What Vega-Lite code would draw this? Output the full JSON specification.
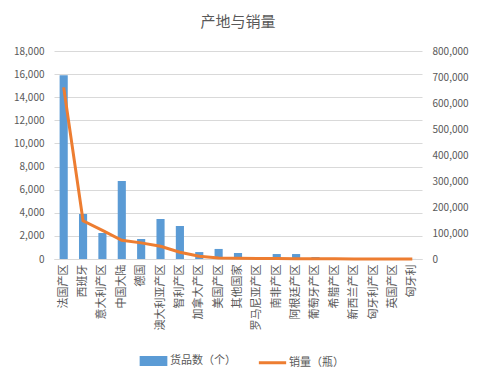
{
  "$schema": "https://vega.github.io/schema/vega-lite/v6.json",
  "width": 368,
  "height": 208,
  "autosize": {"type": "none"},
  "padding": {"left": 54, "top": 51, "right": 59, "bottom": 120},
  "background": "white",
  "title": {"text": "产地与销量", "fontSize": 15, "font": "Noto Sans CJK SC", "fontWeight": "normal", "color": "#595959", "offset": 16},
  "data": {
    "values": [
      {"region": "法国产区", "count": 15900, "sales": 660000},
      {"region": "西班牙", "count": 3900, "sales": 147000},
      {"region": "意大利产区", "count": 2250, "sales": 110000},
      {"region": "中国大陆", "count": 6750, "sales": 72000},
      {"region": "德国", "count": 1730, "sales": 62000},
      {"region": "澳大利亚产区", "count": 3460, "sales": 49000},
      {"region": "智利产区", "count": 2860, "sales": 26000},
      {"region": "加拿大产区", "count": 600, "sales": 11000},
      {"region": "美国产区", "count": 870, "sales": 4000},
      {"region": "其他国家", "count": 520, "sales": 2500},
      {"region": "罗马尼亚产区", "count": 60, "sales": 2000},
      {"region": "南非产区", "count": 430, "sales": 1500},
      {"region": "阿根廷产区", "count": 430, "sales": 1200},
      {"region": "葡萄牙产区", "count": 170, "sales": 1000},
      {"region": "希腊产区", "count": 20, "sales": 500},
      {"region": "新西兰产区", "count": 20, "sales": 400},
      {"region": "匈牙利产区", "count": 10, "sales": 300},
      {"region": "英国产区", "count": 10, "sales": 200},
      {"region": "匈牙利", "count": 5, "sales": 100}
    ]
  },
  "encoding": {
    "x": {
      "field": "region",
      "type": "nominal",
      "sort": null,
      "scale": {"paddingInner": 0.58, "paddingOuter": 0.29},
      "axis": {"title": null, "labelAngle": -90, "domainColor": "#D9D9D9", "ticks": false, "tickSize": 0, "labelFontSize": 11, "labelColor": "#595959", "labelPadding": 5}
    }
  },
  "layer": [
    {
      "mark": {"type": "bar"},
      "encoding": {
        "y": {
          "field": "count",
          "type": "quantitative",
          "scale": {"domain": [0, 18000]},
          "axis": {"title": null, "values": [0, 2000, 4000, 6000, 8000, 10000, 12000, 14000, 16000, 18000], "format": ",.0f", "grid": true, "gridColor": "#D9D9D9", "domain": false, "ticks": false, "tickSize": 0, "labelPadding": 10, "labelFontSize": 10, "labelColor": "#595959"}
        },
        "color": {
          "datum": "货品数（个）",
          "type": "nominal",
          "scale": {"domain": ["货品数（个）", "销量（瓶）"], "range": ["#5B9BD5", "#ED7D31"]},
          "legend": {
            "orient": "none",
            "legendX": 85,
            "legendY": 295,
            "direction": "horizontal",
            "title": null,
            "labelFontSize": 11,
            "labelColor": "#595959",
            "columnPadding": 16,
            "labelOffset": 2,
            "symbolSize": 676,
            "encode": {
              "symbols": {
                "update": {
                  "shape": [{"test": "datum.value === '销量（瓶）'", "value": "M-1.05,0H1.05"}, {"value": "M-0.95,-0.27H0.95V0.27H-0.95Z"}],
                  "fill": [{"test": "datum.value === '销量（瓶）'", "value": "transparent"}, {"value": "#5B9BD5"}],
                  "stroke": [{"test": "datum.value === '销量（瓶）'", "value": "#ED7D31"}, {"value": "transparent"}],
                  "strokeWidth": {"value": 3},
                  "opacity": {"value": 1}
                }
              }
            }
          }
        }
      }
    },
    {
      "mark": {"type": "line", "strokeWidth": 3},
      "encoding": {
        "y": {
          "field": "sales",
          "type": "quantitative",
          "scale": {"domain": [0, 800000]},
          "axis": {"orient": "right", "title": null, "values": [0, 100000, 200000, 300000, 400000, 500000, 600000, 700000, 800000], "format": ",.0f", "grid": false, "domain": false, "ticks": false, "tickSize": 0, "labelPadding": 10, "labelFontSize": 10, "labelColor": "#595959"}
        },
        "color": {"datum": "销量（瓶）", "type": "nominal"}
      }
    }
  ],
  "resolve": {"scale": {"y": "independent"}},
  "config": {
    "font": "Noto Sans CJK SC",
    "view": {"stroke": null}
  }
}
